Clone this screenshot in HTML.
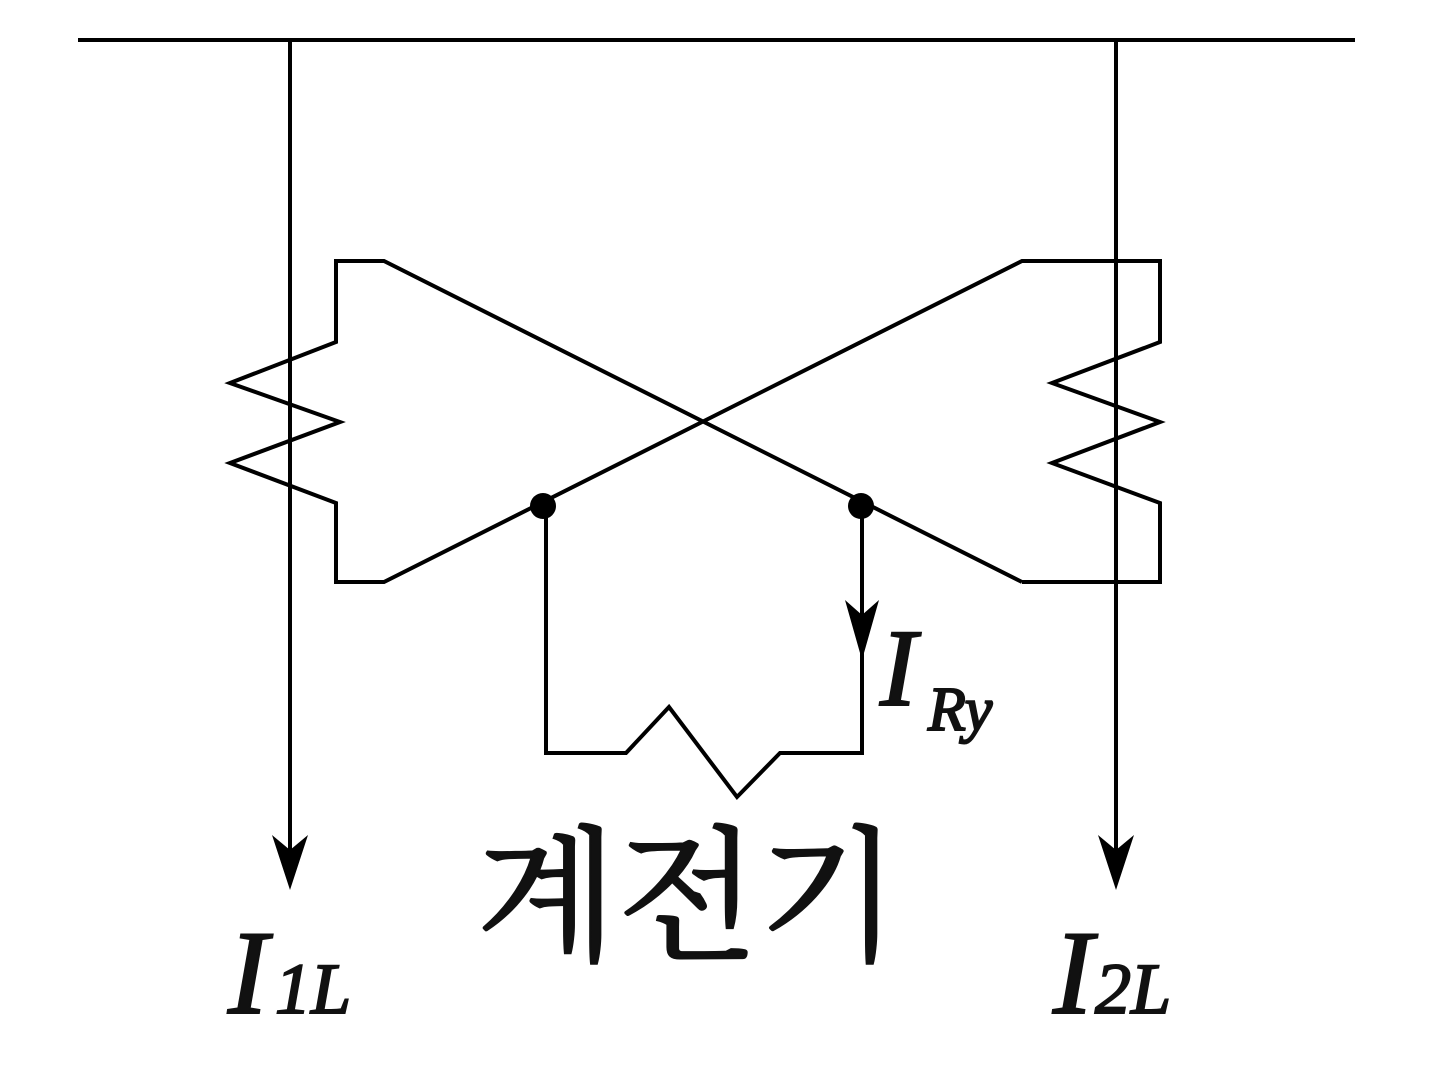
<!DOCTYPE html>
<html><head><style>
html,body{margin:0;padding:0;background:#fff;}
svg{display:block}
text{font-family:"Liberation Serif",serif;font-style:italic;fill:#111}
</style></head><body>
<svg width="1437" height="1083" viewBox="0 0 1437 1083" xmlns="http://www.w3.org/2000/svg">
<g stroke="#000" stroke-width="4" fill="none">
<line x1="78" y1="40" x2="1355" y2="40"/>
<line x1="290" y1="40" x2="290" y2="860"/>
<line x1="1116" y1="40" x2="1116" y2="860"/>
<polyline points="1022,582 384,261 336,261 336,342 230,383 340,422 230,463 336,503 336,582 384,582 1022,261 1160,261 1160,342 1052,383 1160,422 1052,463 1160,503 1160,582 1022,582"/>
<polyline points="546,505 546,753 626,753 669,707 737,797 780,753 862,753 862,505"/>
</g>
<g fill="#000">
<path d="M290 890 L272 835 L290 850 L308 835 Z"/>
<path d="M1116 890 L1098 835 L1116 850 L1134 835 Z"/>
<path d="M862 660 L845 600 L862 615 L879 600 Z"/>
<circle cx="543" cy="506" r="13"/>
<circle cx="861" cy="506" r="13"/>
</g>
<g stroke="#111" stroke-width="2">
<text x="228" y="1013" font-size="120">I</text>
<text x="275" y="1013" font-size="72">1L</text>
<text x="1053" y="1013" font-size="120">I</text>
<text x="1095" y="1013" font-size="72">2L</text>
<text x="880" y="705" font-size="110">I</text>
<text x="928" y="730" font-size="62">Ry</text>
</g>
<text x="688" y="948" font-size="146" text-anchor="middle" stroke="#111" stroke-width="2" style="font-style:normal;font-family:'Liberation Serif','Noto Serif CJK SC','NanumGothic',serif">계전기</text>
</svg>
</body></html>
